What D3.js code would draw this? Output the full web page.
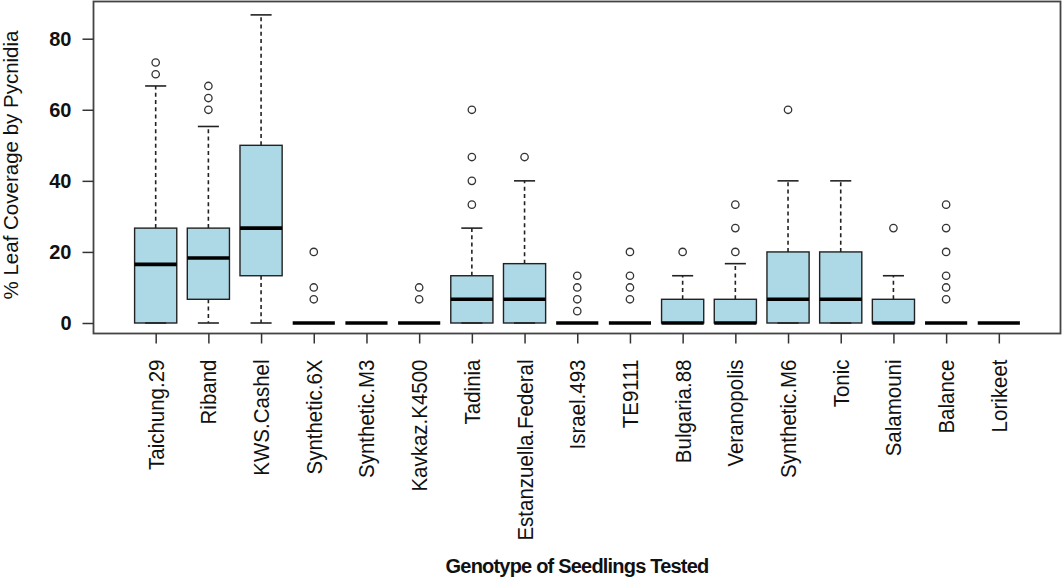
<!DOCTYPE html>
<html>
<head>
<meta charset="utf-8">
<script src="https://cdn.jsdelivr.net/npm/d3@7/dist/d3.min.js"></script>
<style>
  html, body { margin: 0; padding: 0; background: #fff; }
  svg { display: block; font-family: "Liberation Sans", Arial, Helvetica, sans-serif; }
</style>
</head>
<body>
<svg id="chart" width="1063" height="578"></svg>
<script>
// ---- data ----
const categories = ["Taichung.29", "Riband", "KWS.Cashel", "Synthetic.6X", "Synthetic.M3",
  "Kavkaz.K4500", "Tadinia", "Estanzuella.Federal", "Israel.493", "TE9111", "Bulgaria.88",
  "Veranopolis", "Synthetic.M6", "Tonic", "Salamouni", "Balance", "Lorikeet"];
const whiskerLow  = [0, 0, 0, 0, 0, 0, 0, 0, 0, 0, 0, 0, 0, 0, 0, 0, 0];
const q1Values    = [0, 6.67, 13.3, 0, 0, 0, 0, 0, 0, 0, 0, 0, 0, 0, 0, 0, 0];
const medians     = [16.5, 18.3, 26.7, 0, 0, 0, 6.67, 6.67, 0, 0, 0, 0, 6.67, 6.67, 0, 0, 0];
const q3Values    = [26.7, 26.7, 50, 0, 0, 0, 13.3, 16.7, 0, 0, 6.67, 6.67, 20, 20, 6.67, 0, 0];
const whiskerHigh = [66.7, 55.3, 86.7, 0, 0, 0, 26.7, 40, 0, 0, 13.3, 16.7, 40, 40, 13.3, 0, 0];
const outlierSets = [
  [70, 73.3],
  [60, 63.3, 66.7],
  [],
  [6.67, 10, 20],
  [],
  [6.67, 10],
  [33.3, 40, 46.7, 60],
  [46.7],
  [3.33, 6.67, 10, 13.3],
  [6.67, 10, 13.3, 20],
  [20],
  [20, 26.7, 33.3],
  [60],
  [],
  [26.7],
  [6.67, 10, 13.3, 20, 26.7, 33.3],
  []
];
const yTicks = [0, 20, 40, 60, 80];
const yTitle = "% Leaf Coverage by Pycnidia";
const xTitle = "Genotype of Seedlings Tested";

// ---- layout ----
const svg = d3.select("#chart");
const frame = { left: 93.5, right: 1060.5, top: 1.5, bottom: 333.5 };
const n = categories.length;
const x = d3.scaleLinear()
  .domain([0.5 - 0.04 * n, n + 0.5 + 0.04 * n])
  .range([93.5, 1061]);
const y = d3.scaleLinear().domain([0, 80]).range([323, 38.7]);
const unit = x(2) - x(1);
const boxW = 0.8 * unit;
const stapleW = 0.4 * unit;

const rows = categories.map((c, i) => ({
  name: c, pos: i + 1,
  lo: whiskerLow[i], q1: q1Values[i], med: medians[i], q3: q3Values[i], hi: whiskerHigh[i],
  out: outlierSets[i]
}));

const g = svg.append("g");

// boxes fill
g.selectAll("rect.box").data(rows).join("rect")
  .attr("class", "box")
  .attr("x", d => x(d.pos) - boxW / 2)
  .attr("width", boxW)
  .attr("y", d => y(d.q3))
  .attr("height", d => y(d.q1) - y(d.q3))
  .attr("fill", "#add8e6")
  .attr("stroke", "none");

// whiskers (dashed)
const whiskers = rows.flatMap(d => [
  { pos: d.pos, a: d.q3, b: d.hi },
  { pos: d.pos, a: d.q1, b: d.lo }
]).filter(w => w.a !== w.b);
g.selectAll("line.whisker").data(whiskers).join("line")
  .attr("x1", d => x(d.pos)).attr("x2", d => x(d.pos))
  .attr("y1", d => y(d.a)).attr("y2", d => y(d.b))
  .attr("stroke", "#222").attr("stroke-width", 1.6)
  .attr("stroke-dasharray", "4,3.3");

// staples
const staples = rows.flatMap(d => [{ pos: d.pos, v: d.hi }, { pos: d.pos, v: d.lo }]);
g.selectAll("line.staple").data(staples).join("line")
  .attr("x1", d => x(d.pos) - stapleW / 2).attr("x2", d => x(d.pos) + stapleW / 2)
  .attr("y1", d => y(d.v)).attr("y2", d => y(d.v))
  .attr("stroke", "#222").attr("stroke-width", 1.6);

// box borders
g.selectAll("rect.border").data(rows.filter(d => d.q3 > d.q1)).join("rect")
  .attr("x", d => x(d.pos) - boxW / 2)
  .attr("width", boxW)
  .attr("y", d => y(d.q3))
  .attr("height", d => y(d.q1) - y(d.q3))
  .attr("fill", "none")
  .attr("stroke", "#222").attr("stroke-width", 1.4);

// medians
g.selectAll("line.median").data(rows).join("line")
  .attr("x1", d => x(d.pos) - boxW / 2).attr("x2", d => x(d.pos) + boxW / 2)
  .attr("y1", d => y(d.med)).attr("y2", d => y(d.med))
  .attr("stroke", "#000").attr("stroke-width", 3.6);

// outliers
const outs = rows.flatMap(d => d.out.map(v => ({ pos: d.pos, v })));
g.selectAll("circle.out").data(outs).join("circle")
  .attr("cx", d => x(d.pos)).attr("cy", d => y(d.v))
  .attr("r", 3.7)
  .attr("fill", "#fff").attr("stroke", "#333").attr("stroke-width", 1.3);

// frame
svg.append("rect")
  .attr("x", frame.left).attr("y", frame.top)
  .attr("width", frame.right - frame.left).attr("height", frame.bottom - frame.top)
  .attr("fill", "none").attr("stroke", "#444").attr("stroke-width", 1.8);

// y axis
const yAxis = svg.append("g")
  .attr("transform", `translate(${frame.left},0)`)
  .call(d3.axisLeft(y).tickValues(yTicks).tickSize(11).tickPadding(11).tickFormat(d3.format("d")));
yAxis.select(".domain").remove();
yAxis.selectAll(".tick line").attr("stroke", "#333").attr("stroke-width", 1.5);
yAxis.selectAll(".tick text")
  .attr("font-size", 20).attr("font-weight", "bold")
  .attr("font-family", '"Liberation Sans", Arial, sans-serif')
  .attr("fill", "#111").attr("dy", "0.34em");

// x axis
const xAxis = svg.append("g")
  .attr("transform", `translate(0,${frame.bottom})`)
  .call(d3.axisBottom(x).tickValues(rows.map(d => d.pos)).tickSize(10)
    .tickFormat(d => categories[d - 1]));
xAxis.select(".domain").remove();
xAxis.selectAll(".tick line").attr("stroke", "#333").attr("stroke-width", 1.5);
xAxis.selectAll(".tick text")
  .attr("font-size", 20.5)
  .attr("font-family", '"Liberation Sans", Arial, sans-serif')
  .attr("fill", "#111")
  .attr("text-anchor", "end")
  .attr("y", 0).attr("dy", null)
  .attr("transform", "translate(7.5,26) rotate(-90) scale(1,1.12)");

// axis titles
svg.append("text")
  .attr("transform", "translate(18,165) rotate(-90)")
  .attr("text-anchor", "middle")
  .attr("font-size", 20.5)
  .attr("fill", "#111")
  .text(yTitle);

svg.append("text")
  .attr("x", (frame.left + frame.right) / 2)
  .attr("y", 573)
  .attr("text-anchor", "middle")
  .attr("font-size", 20)
  .attr("font-weight", "bold")
  .attr("letter-spacing", "-0.8px")
  .attr("fill", "#111")
  .text(xTitle);
</script>
</body>
</html>
